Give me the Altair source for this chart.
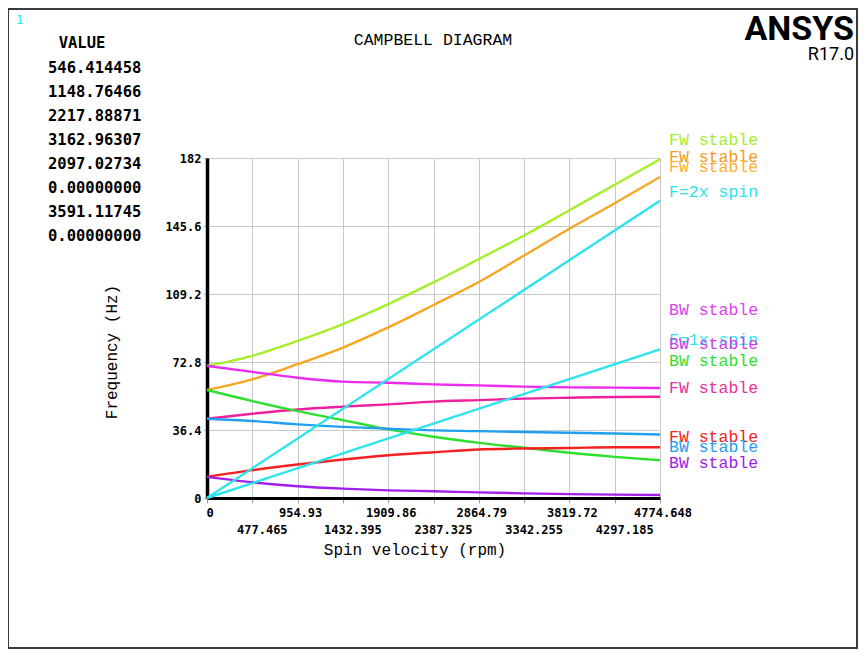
import altair as alt
import pandas as pd

# ---------------- data ----------------
rpm = [0, 477.465, 954.93, 1432.395, 1909.86, 2387.325, 2864.79, 3342.255, 3819.72, 4297.185, 4774.648]

fw_yellowgreen = [70.7, 76.1, 84.1, 93.1, 103.8, 115.4, 127.9, 140.5, 154.0, 167.7, 181.3]
fw_orange = [57.8, 63.5, 71.6, 80.5, 91.3, 103.3, 115.6, 129.8, 144.1, 157.8, 171.8]
bw_magenta = [70.7, 67.5, 64.4, 62.3, 61.7, 60.8, 60.3, 59.6, 59.2, 59.1, 58.9]
fw_pink = [42.4, 45.1, 47.4, 48.9, 50.1, 51.6, 52.4, 53.2, 53.7, 54.1, 54.2]
bw_green = [57.8, 51.9, 46.5, 41.7, 36.7, 32.8, 29.5, 26.9, 24.2, 22.0, 20.2]
bw_blue = [42.4, 41.2, 39.4, 38.1, 37.1, 36.2, 35.8, 35.3, 34.9, 34.5, 34.0]
fw_red = [11.3, 14.9, 17.9, 20.6, 22.9, 24.5, 26.0, 26.5, 26.8, 27.2, 27.2]
bw_purple = [11.3, 8.4, 6.3, 5.0, 4.1, 3.6, 3.0, 2.5, 2.1, 1.8, 1.6]

spin_rpm = [0, 4774.648]
f_1x = [0, 79.58]
f_2x = [0, 159.15]

series_names = ["fw_yg", "fw_or", "bw_mag", "fw_pink", "bw_green", "bw_blue", "fw_red", "bw_purple", "f1x", "f2x"]
series_colors = ["#A6EE2A", "#F5A623", "#EC2CEC", "#F0209C", "#2EE02E", "#22A0F0", "#F52020", "#A020E8", "#2DE3EE", "#2DE3EE"]

label_text = ["FW stable", "FW stable", "FW stable", "F=2x spin", "BW stable", "F=1x spin",
              "BW stable", "BW stable", "FW stable", "FW stable", "BW stable", "BW stable"]
label_freq = [191.6, 182.7, 177.3, 164.0, 100.6, 84.6, 82.5, 73.5, 59.0, 32.8, 27.5, 18.6]
label_colors = ["#A6EE2A", "#F59A20", "#FFB02E", "#2DE3EE", "#E040F0", "#2DE3EE",
                "#C840E8", "#2EE02E", "#E8309A", "#F52020", "#22A0F0", "#A020E8"]

x_ticks = rpm
x_tick_labels = ["0", "477.465", "954.93", "1432.395", "1909.86", "2387.325",
                 "2864.79", "3342.255", "3819.72", "4297.185", "4774.648"]
y_ticks = [0, 36.4, 72.8, 109.2, 145.6, 182]

value_list = ["546.414458", "1148.76466", "2217.88871", "3162.96307",
              "2097.02734", "0.00000000", "3591.11745", "0.00000000"]

# ---------------- tables ----------------
rows = []
for name, vals in zip(series_names[:8], [fw_yellowgreen, fw_orange, bw_magenta, fw_pink,
                                          bw_green, bw_blue, fw_red, bw_purple]):
    for r, f in zip(rpm, vals):
        rows.append({"series": name, "rpm": r, "freq": f})
for name, vals in zip(["f1x", "f2x"], [f_1x, f_2x]):
    for r, f in zip(spin_rpm, vals):
        rows.append({"series": name, "rpm": r, "freq": f})
df_lines = pd.DataFrame(rows)

df_labels = pd.DataFrame({"text": label_text, "freq": label_freq, "col": label_colors})
df_xt = pd.DataFrame({"rpm": x_ticks, "lab": x_tick_labels, "i": list(range(len(x_ticks)))})
df_vals = pd.DataFrame({"v": value_list, "i": list(range(len(value_list)))})
dummy = pd.DataFrame({"a": [0]})

W, H = 453, 340
MONO = "Liberation Mono"
BOLDMONO = "DejaVu Sans Mono"

xscale = alt.Scale(domain=[0, 4774.648], nice=False, zero=False)
yscale = alt.Scale(domain=[0, 182], nice=False)

lines = alt.Chart(df_lines).mark_line(strokeWidth=2.4, interpolate="monotone").encode(
    x=alt.X("rpm:Q", scale=xscale,
            axis=alt.Axis(values=x_ticks, labels=False, title=None, grid=True,
                          gridColor="#C8C8C8", gridWidth=1, tickColor="#A0A0A0",
                          tickSize=5, domainColor="black", domainWidth=3)),
    y=alt.Y("freq:Q", scale=yscale,
            axis=alt.Axis(values=y_ticks, title=None, grid=True, gridColor="#C8C8C8",
                          gridWidth=1, tickColor="#C0C0C0", tickSize=4,
                          domainColor="black", domainWidth=3.5,
                          labelExpr="format(datum.value, '~g')",
                          labelFont=BOLDMONO, labelFontWeight="bold", labelFontSize=12,
                          labelColor="black", labelPadding=2)),
    color=alt.Color("series:N", scale=alt.Scale(domain=series_names, range=series_colors), legend=None),
    detail="series:N",
)

labels = alt.Chart(df_labels).mark_text(font=MONO, fontSize=16.5, align="left", baseline="middle").encode(
    x=alt.value(462),
    y=alt.Y("freq:Q", scale=yscale),
    text="text:N",
    color=alt.Color("col:N", scale=None),
)

xt_even = alt.Chart(df_xt).transform_filter("datum.i % 2 == 0").mark_text(
    font=BOLDMONO, fontWeight="bold", fontSize=12, align="center", baseline="middle", color="black", dx=3
).encode(x=alt.X("rpm:Q", scale=xscale), y=alt.value(355), text="lab:N")

xt_odd = alt.Chart(df_xt).transform_filter("datum.i % 2 == 1").mark_text(
    font=BOLDMONO, fontWeight="bold", fontSize=12, align="center", baseline="middle", color="black", dx=10
).encode(x=alt.X("rpm:Q", scale=xscale), y=alt.value(372), text="lab:N")

xtitle = alt.Chart(dummy).mark_text(font=MONO, fontSize=16, align="center", baseline="middle",
                                    color="black", text="Spin velocity (rpm)").encode(
    x=alt.value(208), y=alt.value(392))
ytitle = alt.Chart(dummy).mark_text(font=MONO, fontSize=16, align="center", baseline="middle",
                                    color="black", angle=270, text="Frequency (Hz)").encode(
    x=alt.value(-95), y=alt.value(194))
title = alt.Chart(dummy).mark_text(font=MONO, fontSize=16.5, align="center", baseline="middle",
                                   color="black", text="CAMPBELL DIAGRAM").encode(
    x=alt.value(226), y=alt.value(-118))
ansys = alt.Chart(dummy).mark_text(font="Roboto", fontSize=34, fontWeight="bold", align="right",
                                   baseline="alphabetic", color="black", text="ANSYS").encode(
    x=alt.value(647), y=alt.value(-118))
rel = alt.Chart(dummy).mark_text(font="Roboto", fontSize=18, align="right",
                                 baseline="alphabetic", color="black", text="R17.0").encode(
    x=alt.value(647), y=alt.value(-98))
one = alt.Chart(dummy).mark_text(font=BOLDMONO, fontSize=12, align="left", baseline="middle",
                                 color="#2DE3EE", text="1").encode(
    x=alt.value(-191), y=alt.value(-138))
value_head = alt.Chart(dummy).mark_text(font=BOLDMONO, fontSize=15.5, fontWeight="bold", align="center",
                                        baseline="middle", color="black", text="VALUE").encode(
    x=alt.value(-125), y=alt.value(-115))
values_txt = alt.Chart(df_vals).transform_calculate(py="-90.3 + datum.i * 24").mark_text(
    font=BOLDMONO, fontSize=15.5, fontWeight="bold", align="left", baseline="middle", color="black"
).encode(x=alt.value(-159), y=alt.Y("py:Q", scale=None), text="v:N")

frame = alt.Chart(dummy).mark_rect(fillOpacity=0, stroke="#3A3A3A", strokeWidth=2).encode(
    x=alt.value(-199), x2=alt.value(650), y=alt.value(-149), y2=alt.value(490))

chart = alt.layer(
    frame, lines, labels, xt_even, xt_odd, xtitle, ytitle, title, ansys, rel, one, value_head, values_txt
).resolve_scale(color="independent").properties(
    width=W, height=H,
    padding={"left": 199, "top": 150, "right": 198, "bottom": 151},
    autosize=alt.AutoSizeParams(type="none"),
).configure_view(stroke=None)

chart.save("out.html", embed_options={"renderer": "svg", "actions": False})
